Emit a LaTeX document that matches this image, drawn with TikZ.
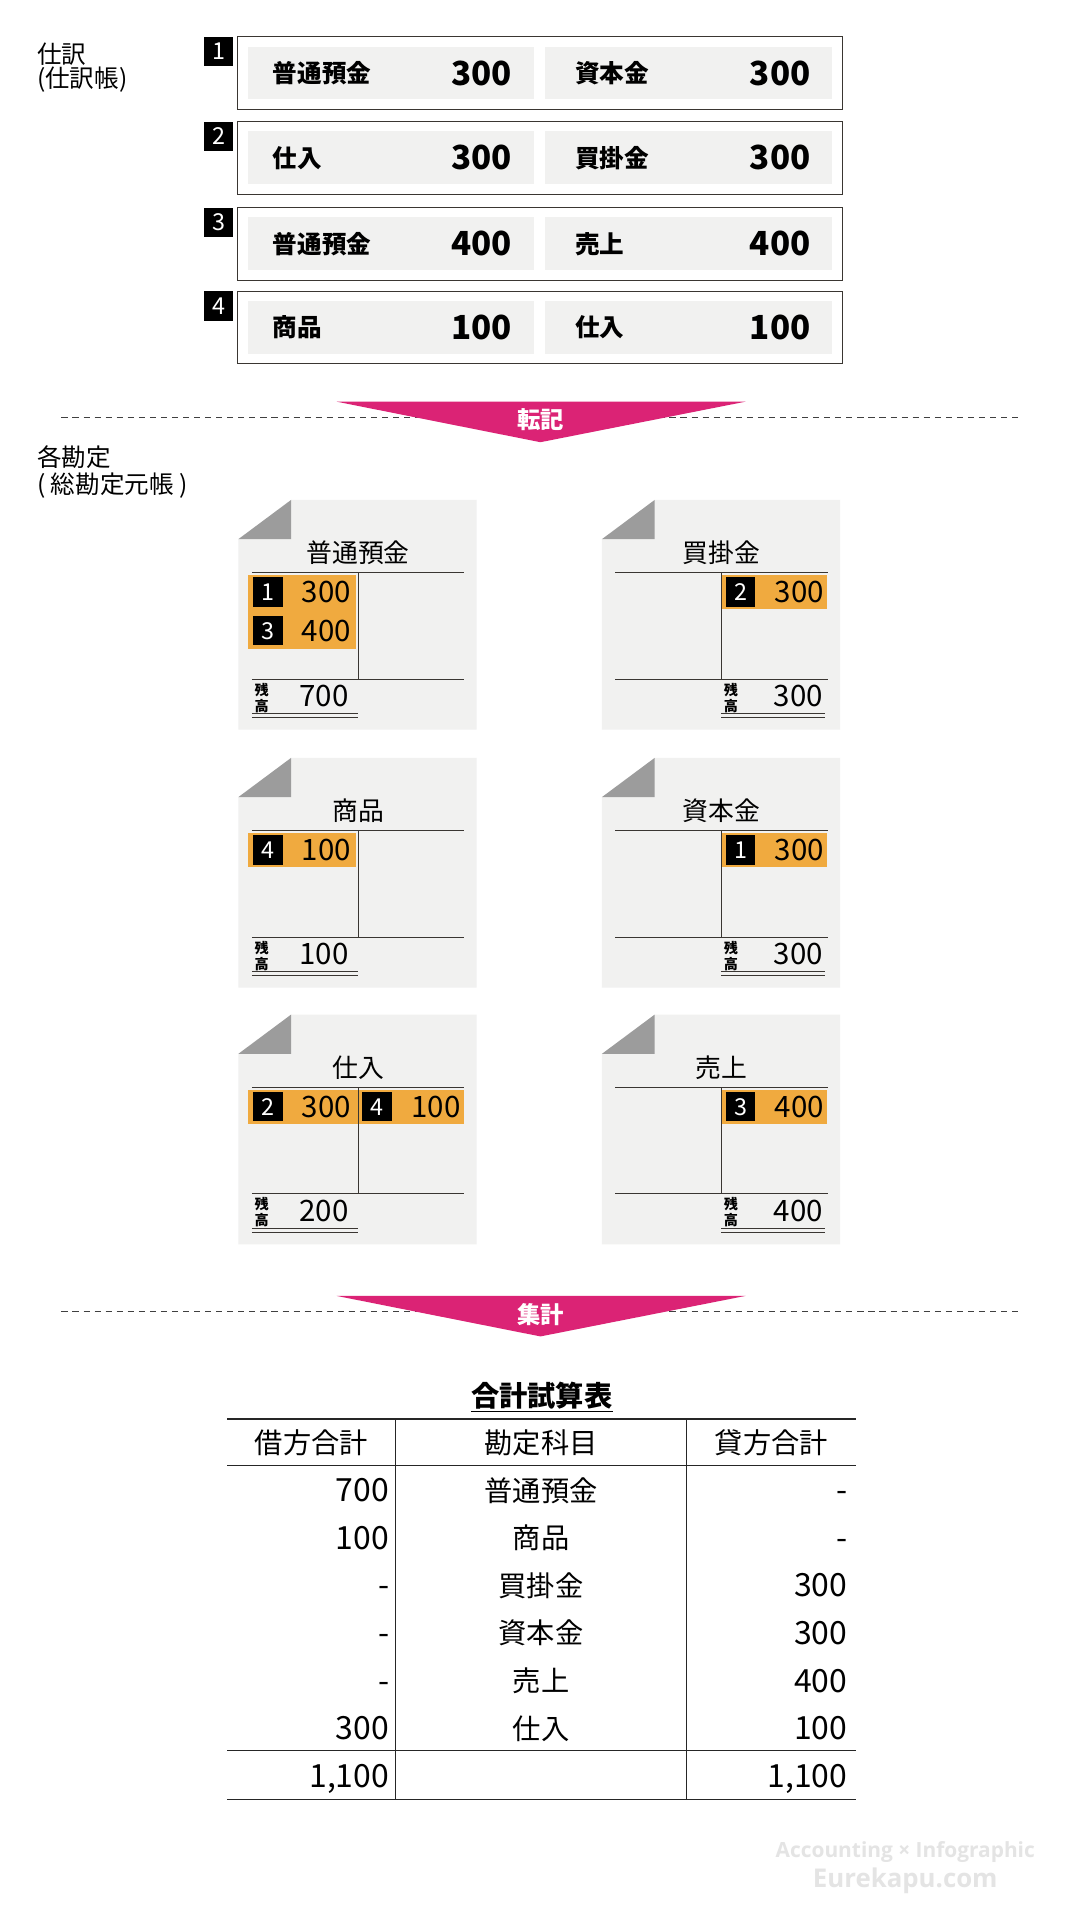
\documentclass[tikz,border=0pt]{standalone}
\usepackage{fontspec}
\setmainfont{Noto Sans CJK JP}
\newfontfamily\markfont{Open Sans}
\usepackage{xcolor}
\usetikzlibrary{positioning}

\definecolor{cellgray}{HTML}{F1F1F0}
\definecolor{foldgray}{HTML}{9C9C9C}
\definecolor{postorange}{HTML}{F0AA3F}
\definecolor{arrowpink}{HTML}{DB2375}
\definecolor{rulegray}{HTML}{3A3632}
\definecolor{markgray}{HTML}{E4E4E4}

\newcommand{\pxsize}[1]{\fontsize{#1}{#1}\selectfont}

\newcommand{\tframe}[2]{%
  \fill[cellgray] (0,32) -- (43,0) -- (194,0) -- (194,187) -- (0,187) -- cycle;
  \fill[foldgray] (0,32) -- (43,0) -- (43,32) -- cycle;
  \node[ttitle] (#1) at (97.5,43) {#2};}
\newcommand{\trules}{%
  \draw[tline] (11,59) -- (184,59) (11,146) -- (184,146) (97.5,59) -- (97.5,146);}
\newcommand{\tentry}[5]{%
  \node[tbadge] (#1b) at (#2+15,#3) {#4};
  \node[tamount, anchor=east] (#1a) at (#2+83,#3) {#5};}
\newcommand{\tbalance}[5]{%
  \node[tzan] (#1z) at (#2+8,161) {残\\高};
  \node[tamount, anchor=east] (#1a) at (#4,160) {#5};
  \draw[dline] (#2,174) -- (#3,174) (#2,177.5) -- (#3,177.5);}

\begin{document}
\begin{tikzpicture}[x=1pt, y=-1pt,
  jframe/.style={draw=rulegray, line width=0.9pt, minimum width=493pt, minimum height=59pt, inner sep=0},
  jcell/.style={fill=cellgray, minimum width=233pt, minimum height=43pt, inner sep=0},
  jbadge/.style={fill=black, text=white, minimum width=24pt, minimum height=24pt, inner sep=0, font=\pxsize{19}},
  jname/.style={font=\pxsize{20}\bfseries, inner sep=0},
  jamount/.style={font=\pxsize{27}\bfseries, inner sep=0},
  seclabel/.style={font=\pxsize{20}, anchor=west, inner sep=0},
  ttitle/.style={font=\pxsize{21}, inner sep=0},
  tline/.style={draw=rulegray, line width=0.9pt},
  dline/.style={draw=rulegray, line width=0.8pt},
  tbadge/.style={fill=black, text=white, minimum width=24pt, minimum height=24pt, inner sep=0, font=\pxsize{19}},
  tamount/.style={font=\pxsize{24}, inner sep=0},
  tzan/.style={font=\fontsize{11.5}{13}\selectfont\bfseries, align=center, inner sep=0},
  dashrule/.style={draw=black!75, line width=0.8pt, dash pattern=on 5pt off 4pt},
  flowlabel/.style={font=\pxsize{19}\bfseries, text=white, inner sep=0},
  tabline/.style={draw=black!85, line width=1.3pt},
  tabtext/.style={font=\pxsize{23}, inner sep=0, anchor=base},
  tabnum/.style={font=\pxsize{26}, inner sep=0, anchor=base east}]

\fill[white] (0,0) rectangle (883,1568);
\useasboundingbox (0,0) rectangle (883,1568);

\node[seclabel] (jlabel) at (30,44) {仕訳};
\node[seclabel] (jlabelb) at (30,65) {(仕訳帳)};

\foreach \n/\y/\dn/\dv/\cn/\cv in {1/30/普通預金/300/資本金/300, 2/99/仕入/300/買掛金/300, 3/169/普通預金/400/売上/400, 4/237/商品/100/仕入/100} {
  \node[jframe] (jf\n) at (439.5,\y+29.5) {};
  \node[jbadge] (jb\n) at (178,\y+12) {\n};
  \node[jcell] (jd\n) at (318.5,\y+29.5) {};
  \node[jcell] (jc\n) at (560.5,\y+29.5) {};
  \node[jname, anchor=west] (jdn\n) at (222,\y+29.5) {\dn};
  \node[jamount, anchor=east] (jdv\n) at (417,\y+29.5) {\dv};
  \node[jname, anchor=west] (jcn\n) at (468,\y+29.5) {\cn};
  \node[jamount, anchor=east] (jcv\n) at (660,\y+29.5) {\cv};
}

\draw[dashrule] (50,339.5) -- (830,339.5);
\fill[arrowpink] (274,327) -- (607,327) -- (440,360) -- cycle;
\node[flowlabel] (post) at (440,342) {転記};

\node[seclabel] (glabel) at (30,372) {各勘定};
\node[seclabel] (glabelb) at (30,395) {( 総勘定元帳 )};

\begin{scope}[shift={(194,407)}]
  \tframe{futsu}{普通預金}
  \fill[postorange] (8,61) rectangle (96,121);
  \tentry{futsuA}{9}{75}{1}{300}
  \tentry{futsuB}{9}{106.5}{3}{400}
  \trules
  \tbalance{futsuC}{11}{97.5}{90}{700}
\end{scope}

\begin{scope}[shift={(490,407)}]
  \tframe{kaikake}{買掛金}
  \fill[postorange] (98,61) rectangle (183,89);
  \tentry{kaikakeA}{98}{75}{2}{300}
  \trules
  \tbalance{kaikakeC}{97}{182}{180}{300}
\end{scope}

\begin{scope}[shift={(194,617)}]
  \tframe{shohin}{商品}
  \fill[postorange] (8,61) rectangle (96,89);
  \tentry{shohinA}{9}{75}{4}{100}
  \trules
  \tbalance{shohinC}{11}{97.5}{90}{100}
\end{scope}

\begin{scope}[shift={(490,617)}]
  \tframe{shihon}{資本金}
  \fill[postorange] (98,61) rectangle (183,89);
  \tentry{shihonA}{98}{75}{1}{300}
  \trules
  \tbalance{shihonC}{97}{182}{180}{300}
\end{scope}

\begin{scope}[shift={(194,826)}]
  \tframe{shiire}{仕入}
  \fill[postorange] (8,61) rectangle (184,89);
  \tentry{shiireA}{9}{75}{2}{300}
  \tentry{shiireB}{98}{75}{4}{100}
  \trules
  \tbalance{shiireC}{11}{97.5}{90}{200}
\end{scope}

\begin{scope}[shift={(490,826)}]
  \tframe{uriage}{売上}
  \fill[postorange] (98,61) rectangle (183,89);
  \tentry{uriageA}{98}{75}{3}{400}
  \trules
  \tbalance{uriageC}{97}{182}{180}{400}
\end{scope}

\draw[dashrule] (50,1067.5) -- (830,1067.5);
\fill[arrowpink] (274,1055) -- (607,1055) -- (440,1088) -- cycle;
\node[flowlabel] (sum) at (440,1070) {集計};

\node[font=\pxsize{23}\bfseries, inner sep=0] (tbtitle) at (441,1136) {合計試算表};
\draw[line width=1.2pt] (tbtitle.south west) ++(0,2) -- ([yshift=-2pt]tbtitle.south east);

\draw[tabline] (185,1155) -- (697,1155);
\draw[tabline] (185,1193) -- (697,1193);
\draw[tabline] (185,1425) -- (697,1425);
\draw[tabline] (185,1465) -- (697,1465);
\draw[tabline] (322,1155) -- (322,1465);
\draw[tabline] (559,1155) -- (559,1465);

\node[tabtext] (hdr) at (253.5,1183.5) {借方合計};
\node[tabtext] (hac) at (440.5,1183.5) {勘定科目};
\node[tabtext] (hcr) at (628,1183.5) {貸方合計};

\foreach \dr/\ac/\cr [count=\i] in {700/普通預金/-, 100/商品/-, -/買掛金/300, -/資本金/300, -/売上/400, 300/仕入/100} {
  \node[tabnum] (dr\i) at (317,{1222.5+(\i-1)*38.8}) {\dr};
  \node[tabtext] (ac\i) at (440.5,{1222+(\i-1)*38.8}) {\ac};
  \node[tabnum] (cr\i) at (690,{1222.5+(\i-1)*38.8}) {\cr};
}
\node[tabnum] (drsum) at (317,1455.5) {1,100};
\node[tabnum] (crsum) at (690,1455.5) {1,100};

\node[font=\markfont\bfseries\pxsize{17}, text=markgray, inner sep=0] (mark) at (737,1508) {Accounting × Infographic};
\node[font=\markfont\bfseries\pxsize{21}, text=markgray, inner sep=0] (site) at (737,1531) {Eurekapu.com};
\end{tikzpicture}
\end{document}
